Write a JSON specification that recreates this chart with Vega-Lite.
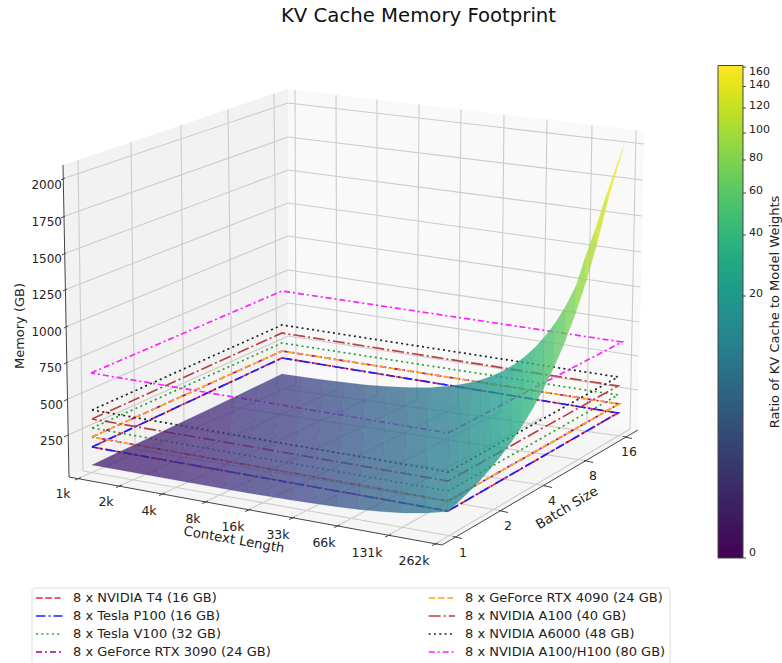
{"$schema":"https://vega.github.io/schema/vega-lite/v6.json","width":782,"height":663,"padding":0,"autosize":{"type":"none"},"background":"white","config":{"view":{"stroke":null},"text":{"font":"DejaVu Sans"},"legend":{"labelFont":"DejaVu Sans"}},"resolve":{"scale":{"stroke":"independent"}},
"datasets":{
"grid":[
{"x":295,"y":90,"x2":296,"y2":384},{"x":336,"y":95,"x2":337,"y2":390},{"x":377,"y":99.5,"x2":377,"y2":395},{"x":419,"y":104.5,"x2":417,"y2":400},{"x":461,"y":109.4,"x2":458,"y2":406},{"x":504,"y":114.5,"x2":501,"y2":411.5},{"x":547,"y":119.6,"x2":543,"y2":417},{"x":592,"y":125,"x2":587,"y2":423},{"x":636,"y":130,"x2":630,"y2":429},
{"x":78,"y":160,"x2":83,"y2":471},{"x":131,"y":142,"x2":135,"y2":449},{"x":181,"y":125,"x2":184,"y2":428},{"x":228,"y":110,"x2":232,"y2":407},{"x":274,"y":94,"x2":277,"y2":388},
{"x":65,"y":178,"x2":288,"y2":103},{"x":65,"y":216,"x2":288,"y2":137},{"x":66,"y":253,"x2":288,"y2":170},{"x":67,"y":289,"x2":288,"y2":203},{"x":68,"y":326,"x2":288,"y2":236},{"x":68,"y":362,"x2":288,"y2":270},{"x":68,"y":399,"x2":288,"y2":303},{"x":68,"y":435,"x2":288,"y2":336},
{"x":288,"y":103,"x2":644,"y2":144},{"x":288,"y":137,"x2":643,"y2":180},{"x":288,"y":170,"x2":642,"y2":216},{"x":288,"y":203,"x2":641,"y2":252},{"x":288,"y":236,"x2":640,"y2":287},{"x":288,"y":270,"x2":639,"y2":322},{"x":288,"y":303,"x2":638.5,"y2":356},{"x":288,"y":336,"x2":638,"y2":390},
{"x":78,"y":478.5,"x2":296,"y2":384},{"x":119,"y":486,"x2":337,"y2":390},{"x":162,"y":494,"x2":377,"y2":395},{"x":205,"y":502,"x2":417,"y2":400},{"x":248,"y":510,"x2":458,"y2":406},{"x":292,"y":518,"x2":501,"y2":411.5},{"x":337,"y":526,"x2":543,"y2":417},{"x":388,"y":535.5,"x2":587,"y2":423},{"x":435,"y":544,"x2":630,"y2":429},
{"x":83,"y":471,"x2":457,"y2":537},{"x":135,"y":449,"x2":503,"y2":511},{"x":184,"y":428,"x2":547,"y2":486},{"x":232,"y":407,"x2":588,"y2":461},{"x":277,"y":388,"x2":627,"y2":437}
],
"axes":[
{"x":63,"y":165,"x2":69,"y2":477},{"x":69,"y":477,"x2":442,"y2":545},{"x":442,"y":545,"x2":638,"y2":430},
{"x":61,"y":180,"x2":65,"y2":178},{"x":61,"y":218,"x2":65,"y2":216},{"x":62,"y":255,"x2":66,"y2":253},{"x":63,"y":291,"x2":67,"y2":289},{"x":64,"y":328,"x2":68,"y2":326},{"x":64,"y":364,"x2":68,"y2":362},{"x":64,"y":401,"x2":68,"y2":399},{"x":64,"y":437,"x2":68,"y2":435},
{"x":75,"y":480,"x2":81,"y2":477.5},{"x":116,"y":487.5,"x2":122,"y2":485},{"x":159,"y":495.5,"x2":165,"y2":493},{"x":202,"y":503.5,"x2":208,"y2":501},{"x":245,"y":511.5,"x2":251,"y2":509},{"x":289,"y":519.5,"x2":295,"y2":517},{"x":334,"y":527.5,"x2":340,"y2":525},{"x":385,"y":537,"x2":391,"y2":534.5},{"x":432,"y":545.5,"x2":438,"y2":543},
{"x":453,"y":536.5,"x2":462,"y2":538.5},{"x":499,"y":510.5,"x2":508,"y2":512.5},{"x":543,"y":485.5,"x2":552,"y2":487.5},{"x":584,"y":460.5,"x2":593,"y2":462.5},{"x":623,"y":436.5,"x2":632,"y2":438.5},
{"x":743,"y":67,"x2":746,"y2":67},{"x":743,"y":86.5,"x2":746,"y2":86.5},{"x":743,"y":108,"x2":746,"y2":108},{"x":743,"y":133,"x2":746,"y2":133},{"x":743,"y":160,"x2":746,"y2":160},{"x":743,"y":193,"x2":746,"y2":193},{"x":743,"y":235,"x2":746,"y2":235},{"x":743,"y":296,"x2":746,"y2":296},{"x":743,"y":558,"x2":746,"y2":558}
],
"levels":[
{"series":"8 x NVIDIA T4 (16 GB)","step":0,"x":92,"y":447},{"series":"8 x NVIDIA T4 (16 GB)","step":1,"x":282,"y":358},{"series":"8 x NVIDIA T4 (16 GB)","step":2,"x":618,"y":413},{"series":"8 x NVIDIA T4 (16 GB)","step":3,"x":448,"y":511},{"series":"8 x NVIDIA T4 (16 GB)","step":4,"x":92,"y":447},
{"series":"8 x Tesla P100 (16 GB)","step":0,"x":92,"y":447},{"series":"8 x Tesla P100 (16 GB)","step":1,"x":282,"y":358},{"series":"8 x Tesla P100 (16 GB)","step":2,"x":618,"y":413},{"series":"8 x Tesla P100 (16 GB)","step":3,"x":448,"y":511},{"series":"8 x Tesla P100 (16 GB)","step":4,"x":92,"y":447},
{"series":"8 x Tesla V100 (32 GB)","step":0,"x":92,"y":428},{"series":"8 x Tesla V100 (32 GB)","step":1,"x":282,"y":343},{"series":"8 x Tesla V100 (32 GB)","step":2,"x":618,"y":395},{"series":"8 x Tesla V100 (32 GB)","step":3,"x":448,"y":491},{"series":"8 x Tesla V100 (32 GB)","step":4,"x":92,"y":428},
{"series":"8 x GeForce RTX 3090 (24 GB)","step":0,"x":92,"y":437},{"series":"8 x GeForce RTX 3090 (24 GB)","step":1,"x":282,"y":351},{"series":"8 x GeForce RTX 3090 (24 GB)","step":2,"x":619,"y":404},{"series":"8 x GeForce RTX 3090 (24 GB)","step":3,"x":448,"y":501},{"series":"8 x GeForce RTX 3090 (24 GB)","step":4,"x":92,"y":437},
{"series":"8 x GeForce RTX 4090 (24 GB)","step":0,"x":92,"y":437},{"series":"8 x GeForce RTX 4090 (24 GB)","step":1,"x":282,"y":351},{"series":"8 x GeForce RTX 4090 (24 GB)","step":2,"x":619,"y":404},{"series":"8 x GeForce RTX 4090 (24 GB)","step":3,"x":448,"y":501},{"series":"8 x GeForce RTX 4090 (24 GB)","step":4,"x":92,"y":437},
{"series":"8 x NVIDIA A100 (40 GB)","step":0,"x":92,"y":419},{"series":"8 x NVIDIA A100 (40 GB)","step":1,"x":282,"y":333},{"series":"8 x NVIDIA A100 (40 GB)","step":2,"x":618,"y":386},{"series":"8 x NVIDIA A100 (40 GB)","step":3,"x":448,"y":481},{"series":"8 x NVIDIA A100 (40 GB)","step":4,"x":92,"y":419},
{"series":"8 x NVIDIA A6000 (48 GB)","step":0,"x":92,"y":410},{"series":"8 x NVIDIA A6000 (48 GB)","step":1,"x":282,"y":325},{"series":"8 x NVIDIA A6000 (48 GB)","step":2,"x":618,"y":377},{"series":"8 x NVIDIA A6000 (48 GB)","step":3,"x":448,"y":472},{"series":"8 x NVIDIA A6000 (48 GB)","step":4,"x":92,"y":410},
{"series":"8 x NVIDIA A100/H100 (80 GB)","step":0,"x":91,"y":373},{"series":"8 x NVIDIA A100/H100 (80 GB)","step":1,"x":282,"y":291},{"series":"8 x NVIDIA A100/H100 (80 GB)","step":2,"x":622,"y":342},{"series":"8 x NVIDIA A100/H100 (80 GB)","step":3,"x":448,"y":433},{"series":"8 x NVIDIA A100/H100 (80 GB)","step":4,"x":91,"y":373}
],
"swatches":[
{"series":"8 x NVIDIA T4 (16 GB)","step":0,"x":36,"y":598},{"series":"8 x NVIDIA T4 (16 GB)","step":1,"x":60.5,"y":598},
{"series":"8 x Tesla P100 (16 GB)","step":0,"x":36,"y":616},{"series":"8 x Tesla P100 (16 GB)","step":1,"x":62.5,"y":616},
{"series":"8 x Tesla V100 (32 GB)","step":0,"x":36,"y":634},{"series":"8 x Tesla V100 (32 GB)","step":1,"x":60.5,"y":634},
{"series":"8 x GeForce RTX 3090 (24 GB)","step":0,"x":36,"y":652},{"series":"8 x GeForce RTX 3090 (24 GB)","step":1,"x":61.5,"y":652},
{"series":"8 x GeForce RTX 4090 (24 GB)","step":0,"x":428.7,"y":598},{"series":"8 x GeForce RTX 4090 (24 GB)","step":1,"x":453,"y":598},
{"series":"8 x NVIDIA A100 (40 GB)","step":0,"x":428.7,"y":616},{"series":"8 x NVIDIA A100 (40 GB)","step":1,"x":455,"y":616},
{"series":"8 x NVIDIA A6000 (48 GB)","step":0,"x":428.7,"y":634},{"series":"8 x NVIDIA A6000 (48 GB)","step":1,"x":453,"y":634},
{"series":"8 x NVIDIA A100/H100 (80 GB)","step":0,"x":428.7,"y":652},{"series":"8 x NVIDIA A100/H100 (80 GB)","step":1,"x":454,"y":652}
],
"entries":[
{"label":"8 x NVIDIA T4 (16 GB)","x":73,"y":598},{"label":"8 x Tesla P100 (16 GB)","x":73,"y":616},{"label":"8 x Tesla V100 (32 GB)","x":73,"y":634},{"label":"8 x GeForce RTX 3090 (24 GB)","x":73,"y":652},
{"label":"8 x GeForce RTX 4090 (24 GB)","x":465,"y":598},{"label":"8 x NVIDIA A100 (40 GB)","x":465,"y":616},{"label":"8 x NVIDIA A6000 (48 GB)","x":465,"y":634},{"label":"8 x NVIDIA A100/H100 (80 GB)","x":465,"y":652}
],
"surface":[
{"ratio":0.0465,"geo":{"type":"Polygon","coordinates":[[[92,465],[114.3,469],[115.8,453.6],[92,465]]]}},
{"ratio":0.0657,"geo":{"type":"Polygon","coordinates":[[[115.8,453.6],[114.3,469],[136.5,473],[139.5,442.4],[115.8,453.6]]]}},
{"ratio":0.0929,"geo":{"type":"Polygon","coordinates":[[[139.5,442.4],[136.5,473],[158.8,477.1],[163.3,431],[139.5,442.4]]]}},
{"ratio":0.131,"geo":{"type":"Polygon","coordinates":[[[163.3,431],[158.8,477.1],[181,481.1],[187,419.7],[163.3,431]]]}},
{"ratio":0.186,"geo":{"type":"Polygon","coordinates":[[[187,419.7],[181,481.1],[203.3,485.1],[210.8,408.4],[187,419.7]]]}},
{"ratio":0.263,"geo":{"type":"Polygon","coordinates":[[[210.8,408.4],[203.3,485.1],[225.5,489],[234.5,397],[210.8,408.4]]]}},
{"ratio":0.372,"geo":{"type":"Polygon","coordinates":[[[234.5,397],[225.5,489],[247.8,492.9],[258.3,385.5],[234.5,397]]]}},
{"ratio":0.526,"geo":{"type":"Polygon","coordinates":[[[258.3,385.5],[247.8,492.9],[270,496.6],[282,374],[258.3,385.5]]]}},
{"ratio":0.743,"geo":{"type":"Polygon","coordinates":[[[282,374],[270,496.6],[292.3,500.2],[303,377.1],[282,374]]]}},
{"ratio":1.05,"geo":{"type":"Polygon","coordinates":[[[303,377.1],[292.3,500.2],[314.5,503.6],[324,379.9],[303,377.1]]]}},
{"ratio":1.49,"geo":{"type":"Polygon","coordinates":[[[324,379.9],[314.5,503.6],[336.8,506.7],[345,382.6],[324,379.9]]]}},
{"ratio":2.1,"geo":{"type":"Polygon","coordinates":[[[345,382.6],[336.8,506.7],[359,509.4],[366,384.9],[345,382.6]]]}},
{"ratio":2.97,"geo":{"type":"Polygon","coordinates":[[[366,384.9],[359,509.4],[381.3,511.6],[387,386.6],[366,384.9]]]}},
{"ratio":4.2,"geo":{"type":"Polygon","coordinates":[[[387,386.6],[381.3,511.6],[403.5,512.9],[408,387.6],[387,386.6]]]}},
{"ratio":5.95,"geo":{"type":"Polygon","coordinates":[[[408,387.6],[403.5,512.9],[425.8,513.1],[429,387.7],[408,387.6]]]}},
{"ratio":8.41,"geo":{"type":"Polygon","coordinates":[[[429,387.7],[425.8,513.1],[448,511.5],[450,386.1],[429,387.7]]]}},
{"ratio":10.9,"geo":{"type":"Polygon","coordinates":[[[450,386.1],[448,511.5],[458.6,501.8],[460.5,384.6],[450,386.1]]]}},
{"ratio":12.97,"geo":{"type":"Polygon","coordinates":[[[460.5,384.6],[458.6,501.8],[469.3,491.4],[471,382.5],[460.5,384.6]]]}},
{"ratio":15.4,"geo":{"type":"Polygon","coordinates":[[[471,382.5],[469.3,491.4],[479.9,480.4],[481.5,379.7],[471,382.5]]]}},
{"ratio":18.3,"geo":{"type":"Polygon","coordinates":[[[481.5,379.7],[479.9,480.4],[490.5,468.4],[492,376],[481.5,379.7]]]}},
{"ratio":21.8,"geo":{"type":"Polygon","coordinates":[[[492,376],[490.5,468.4],[501.1,455.4],[502.5,371.2],[492,376]]]}},
{"ratio":25.9,"geo":{"type":"Polygon","coordinates":[[[502.5,371.2],[501.1,455.4],[511.8,441.3],[513,365.3],[502.5,371.2]]]}},
{"ratio":30.8,"geo":{"type":"Polygon","coordinates":[[[513,365.3],[511.8,441.3],[522.4,425.6],[523.5,357.8],[513,365.3]]]}},
{"ratio":36.7,"geo":{"type":"Polygon","coordinates":[[[523.5,357.8],[522.4,425.6],[533,408],[534,348.5],[523.5,357.8]]]}},
{"ratio":43.6,"geo":{"type":"Polygon","coordinates":[[[534,348.5],[533,408],[543.6,388.4],[544.5,337],[534,348.5]]]}},
{"ratio":51.9,"geo":{"type":"Polygon","coordinates":[[[544.5,337],[543.6,388.4],[554.3,366.6],[555,323.3],[544.5,337]]]}},
{"ratio":61.7,"geo":{"type":"Polygon","coordinates":[[[555,323.3],[554.3,366.6],[564.9,341.8],[565.5,306.4],[555,323.3]]]}},
{"ratio":73.4,"geo":{"type":"Polygon","coordinates":[[[565.5,306.4],[564.9,341.8],[575.5,313.6],[576,286],[565.5,306.4]]]}},
{"ratio":87.3,"geo":{"type":"Polygon","coordinates":[[[576,286],[575.5,313.6],[586.1,281.6],[585,258],[576,286]]]}},
{"ratio":103.8,"geo":{"type":"Polygon","coordinates":[[[585,258],[586.1,281.6],[596.8,244.6],[595,230],[585,258]]]}},
{"ratio":123,"geo":{"type":"Polygon","coordinates":[[[595,230],[596.8,244.6],[607.4,202.2],[607,193],[595,230]]]}},
{"ratio":147,"geo":{"type":"Polygon","coordinates":[[[607,193],[607.4,202.2],[624,145],[607,193]]]}}
],
"ctxTicks":[{"label":"1k","x":63,"y":494},{"label":"2k","x":106,"y":502},{"label":"4k","x":149,"y":511},{"label":"8k","x":193,"y":519},{"label":"16k","x":233,"y":527},{"label":"33k","x":278,"y":535},{"label":"66k","x":324,"y":543},{"label":"131k","x":367,"y":553},{"label":"262k","x":414,"y":561},{"label":"1","x":463,"y":553},{"label":"2","x":508,"y":526},{"label":"4","x":552,"y":501},{"label":"8","x":593,"y":476},{"label":"16","x":629,"y":452}],
"memTicks":[{"label":"2000","x":62,"y":185},{"label":"1750","x":62,"y":222},{"label":"1500","x":62,"y":259},{"label":"1250","x":62,"y":295},{"label":"1000","x":62,"y":332},{"label":"750","x":62,"y":368},{"label":"500","x":63,"y":405},{"label":"250","x":63,"y":441}]
},
"layer":[
{"data":{"values":[{"geo":{"type":"Polygon","coordinates":[[[63,165],[288,89],[288,383],[69,477],[63,165]]]}}]},"mark":{"type":"geoshape","fill":"#f2f2f2","stroke":null},"projection":{"type":"identity","scale":1,"translate":[0,0]},"encoding":{"shape":{"field":"geo","type":"geojson"}}},
{"data":{"values":[{"geo":{"type":"Polygon","coordinates":[[[288,89],[644,131],[638,430],[288,383],[288,89]]]}}]},"mark":{"type":"geoshape","fill":"#f9f9f9","stroke":null},"projection":{"type":"identity","scale":1,"translate":[0,0]},"encoding":{"shape":{"field":"geo","type":"geojson"}}},
{"data":{"values":[{"geo":{"type":"Polygon","coordinates":[[[69,477],[288,383],[638,430],[442,545],[69,477]]]}}]},"mark":{"type":"geoshape","fill":"#f5f5f5","stroke":null},"projection":{"type":"identity","scale":1,"translate":[0,0]},"encoding":{"shape":{"field":"geo","type":"geojson"}}},
{"data":{"values":[{"x":32,"y":588,"x2":670,"y2":668}]},"mark":{"type":"rect","fill":"white","stroke":"#dddddd","strokeWidth":1,"cornerRadius":3},"encoding":{"x":{"field":"x","type":"quantitative","scale":{"domain":[0,782],"range":[0,782]},"axis":null},"y":{"field":"y","type":"quantitative","scale":{"domain":[0,663],"range":[0,663]},"axis":null},"x2":{"field":"x2"},"y2":{"field":"y2"}}},
{"data":{"name":"grid"},"mark":{"type":"rule","color":"#cccccc","strokeWidth":1.1},"encoding":{"x":{"field":"x","type":"quantitative","scale":{"domain":[0,782],"range":[0,782]},"axis":null},"y":{"field":"y","type":"quantitative","scale":{"domain":[0,663],"range":[0,663]},"axis":null},"x2":{"field":"x2"},"y2":{"field":"y2"}}},
{"data":{"name":"axes"},"mark":{"type":"rule","color":"#444444","strokeWidth":1},"encoding":{"x":{"field":"x","type":"quantitative","scale":{"domain":[0,782],"range":[0,782]},"axis":null},"y":{"field":"y","type":"quantitative","scale":{"domain":[0,663],"range":[0,663]},"axis":null},"x2":{"field":"x2"},"y2":{"field":"y2"}}},
{"data":{"name":"levels"},"mark":{"type":"line","strokeWidth":1.7},"encoding":{"x":{"field":"x","type":"quantitative","scale":{"domain":[0,782],"range":[0,782]},"axis":null},"y":{"field":"y","type":"quantitative","scale":{"domain":[0,663],"range":[0,663]},"axis":null},"order":{"field":"step"},
"stroke":{"field":"series","type":"nominal","scale":{"domain":["8 x NVIDIA T4 (16 GB)","8 x Tesla P100 (16 GB)","8 x Tesla V100 (32 GB)","8 x GeForce RTX 3090 (24 GB)","8 x GeForce RTX 4090 (24 GB)","8 x NVIDIA A100 (40 GB)","8 x NVIDIA A6000 (48 GB)","8 x NVIDIA A100/H100 (80 GB)"],"range":["#ff2020","#1f1fff","#2ca02c","#a000a0","#ffa520","#b84040","#222222","#ff20ff"]},"legend":null},
"strokeDash":{"field":"series","type":"nominal","scale":{"domain":["8 x NVIDIA T4 (16 GB)","8 x Tesla P100 (16 GB)","8 x Tesla V100 (32 GB)","8 x GeForce RTX 3090 (24 GB)","8 x GeForce RTX 4090 (24 GB)","8 x NVIDIA A100 (40 GB)","8 x NVIDIA A6000 (48 GB)","8 x NVIDIA A100/H100 (80 GB)"],"range":[[6.5,2.8],[9.5,3,2,3],[2,3.3],[6,3,2,3],[6.5,2.8],[12,3,2,3],[2,3.3],[6,3,2,3]]},"legend":null}}},
{"data":{"name":"swatches"},"mark":{"type":"line","strokeWidth":1.7},"encoding":{"x":{"field":"x","type":"quantitative","scale":{"domain":[0,782],"range":[0,782]},"axis":null},"y":{"field":"y","type":"quantitative","scale":{"domain":[0,663],"range":[0,663]},"axis":null},"order":{"field":"step"},
"stroke":{"field":"series","type":"nominal","scale":{"domain":["8 x NVIDIA T4 (16 GB)","8 x Tesla P100 (16 GB)","8 x Tesla V100 (32 GB)","8 x GeForce RTX 3090 (24 GB)","8 x GeForce RTX 4090 (24 GB)","8 x NVIDIA A100 (40 GB)","8 x NVIDIA A6000 (48 GB)","8 x NVIDIA A100/H100 (80 GB)"],"range":["#ff2020","#1f1fff","#2ca02c","#a000a0","#ffa520","#b84040","#222222","#ff20ff"]},"legend":null},
"strokeDash":{"field":"series","type":"nominal","scale":{"domain":["8 x NVIDIA T4 (16 GB)","8 x Tesla P100 (16 GB)","8 x Tesla V100 (32 GB)","8 x GeForce RTX 3090 (24 GB)","8 x GeForce RTX 4090 (24 GB)","8 x NVIDIA A100 (40 GB)","8 x NVIDIA A6000 (48 GB)","8 x NVIDIA A100/H100 (80 GB)"],"range":[[6.5,2.8],[9.5,3,2,3],[2,3.3],[6,3,2,3],[6.5,2.8],[12,3,2,3],[2,3.3],[6,3,2,3]]},"legend":null}}},
{"data":{"name":"entries"},"mark":{"type":"text","fontSize":13,"color":"#222222","align":"left","baseline":"middle"},"encoding":{"x":{"field":"x","type":"quantitative","scale":{"domain":[0,782],"range":[0,782]},"axis":null},"y":{"field":"y","type":"quantitative","scale":{"domain":[0,663],"range":[0,663]},"axis":null},"text":{"field":"label"}}},
{"data":{"name":"surface"},"mark":{"type":"geoshape","strokeWidth":0.6,"strokeOpacity":0.25,"fillOpacity":0.77},"projection":{"type":"identity","scale":1,"translate":[0,0]},"encoding":{"shape":{"field":"geo","type":"geojson"},
"stroke":{"field":"ratio","type":"quantitative","scale":{"type":"pow","exponent":0.3,"domain":[0,160],"scheme":"viridis"},"legend":null},
"fill":{"field":"ratio","type":"quantitative","scale":{"type":"pow","exponent":0.3,"domain":[0,160],"scheme":"viridis"},"legend":{"title":null,"orient":"none","legendX":718,"legendY":65.5,"direction":"vertical","gradientLength":492.5,"gradientThickness":25,"gradientStrokeColor":"#444444","gradientStrokeWidth":1,"values":[0,20,40,60,80,100,120,140,160],"labelFontSize":11,"labelColor":"#222222","labelOverlap":false,"labelOffset":6,"gradientOpacity":1,"symbolOpacity":1}}}},
{"data":{"name":"ctxTicks"},"mark":{"type":"text","fontSize":12.5,"color":"#222222","align":"center","baseline":"middle"},"encoding":{"x":{"field":"x","type":"quantitative","scale":{"domain":[0,782],"range":[0,782]},"axis":null},"y":{"field":"y","type":"quantitative","scale":{"domain":[0,663],"range":[0,663]},"axis":null},"text":{"field":"label"}}},
{"data":{"name":"memTicks"},"mark":{"type":"text","fontSize":12,"color":"#222222","align":"right","baseline":"middle"},"encoding":{"x":{"field":"x","type":"quantitative","scale":{"domain":[0,782],"range":[0,782]},"axis":null},"y":{"field":"y","type":"quantitative","scale":{"domain":[0,663],"range":[0,663]},"axis":null},"text":{"field":"label"}}},
{"data":{"values":[{"label":"KV Cache Memory Footprint","x":418.5,"y":16}]},"mark":{"type":"text","fontSize":19.7,"color":"#111111","align":"center","baseline":"middle"},"encoding":{"x":{"field":"x","type":"quantitative","scale":{"domain":[0,782],"range":[0,782]},"axis":null},"y":{"field":"y","type":"quantitative","scale":{"domain":[0,663],"range":[0,663]},"axis":null},"text":{"field":"label"}}},
{"data":{"values":[{"label":"Context Length","x":234,"y":540}]},"mark":{"type":"text","fontSize":13.3,"angle":10,"color":"#222222","align":"center","baseline":"middle"},"encoding":{"x":{"field":"x","type":"quantitative","scale":{"domain":[0,782],"range":[0,782]},"axis":null},"y":{"field":"y","type":"quantitative","scale":{"domain":[0,663],"range":[0,663]},"axis":null},"text":{"field":"label"}}},
{"data":{"values":[{"label":"Batch Size","x":567,"y":508}]},"mark":{"type":"text","fontSize":13.3,"angle":-31,"color":"#222222","align":"center","baseline":"middle"},"encoding":{"x":{"field":"x","type":"quantitative","scale":{"domain":[0,782],"range":[0,782]},"axis":null},"y":{"field":"y","type":"quantitative","scale":{"domain":[0,663],"range":[0,663]},"axis":null},"text":{"field":"label"}}},
{"data":{"values":[{"label":"Memory (GB)","x":20,"y":326},{"label":"Ratio of KV Cache to Model Weights","x":775,"y":312}]},"mark":{"type":"text","fontSize":13,"angle":-90,"color":"#222222","align":"center","baseline":"middle"},"encoding":{"x":{"field":"x","type":"quantitative","scale":{"domain":[0,782],"range":[0,782]},"axis":null},"y":{"field":"y","type":"quantitative","scale":{"domain":[0,663],"range":[0,663]},"axis":null},"text":{"field":"label"}}}
]}
